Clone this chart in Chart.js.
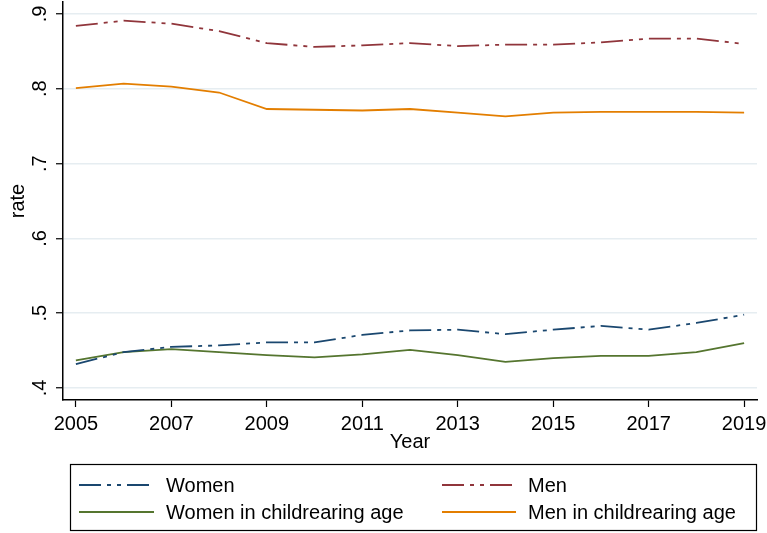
<!DOCTYPE html>
<html>
<head>
<meta charset="utf-8">
<script src="https://cdn.jsdelivr.net/npm/chart.js@4/dist/chart.umd.min.js"></script>
<style>
  html, body { margin: 0; padding: 0; background: #fff; }
  #wrap { width: 767px; height: 533px; position: relative; }
</style>
</head>
<body>
<div id="wrap"><canvas id="rateChart" width="767" height="533"></canvas></div>
<script>
/* ── Data ─────────────────────────────────────────────────────────── */
const years = [2005, 2006, 2007, 2008, 2009, 2010, 2011, 2012,
               2013, 2014, 2015, 2016, 2017, 2018, 2019];

const women      = [0.432, 0.448, 0.455, 0.457, 0.461, 0.461, 0.471, 0.477,
                    0.478, 0.472, 0.478, 0.483, 0.478, 0.487, 0.498];
const men        = [0.884, 0.891, 0.887, 0.877, 0.861, 0.856, 0.858, 0.861,
                    0.857, 0.859, 0.859, 0.862, 0.867, 0.867, 0.860];
const womenChild = [0.437, 0.448, 0.452, 0.448, 0.444, 0.441, 0.445, 0.451,
                    0.444, 0.435, 0.440, 0.443, 0.443, 0.448, 0.460];
const menChild   = [0.801, 0.807, 0.803, 0.795, 0.773, 0.772, 0.771, 0.773,
                    0.768, 0.763, 0.768, 0.769, 0.769, 0.769, 0.768];

const xTicks = [2005, 2007, 2009, 2011, 2013, 2015, 2017, 2019];
const yTicks = [0.4, 0.5, 0.6, 0.7, 0.8, 0.9];
const yTickLabels = ['.4', '.5', '.6', '.7', '.8', '.9'];

const FONT = 'Arial, "Liberation Sans", sans-serif';
const dashDot = [22, 6, 4, 6, 4, 6];

function pts(vals) {
  return years.map(function(y, i) { return { x: y, y: vals[i] }; });
}

// ── Plugins: rotated y tick labels + boxed legend ────────────────────
const yLabelPlugin = {
  id: 'yLabels',
  afterDraw: function(chart) {
    const ctx = chart.ctx, sc = chart.scales.y;
    ctx.save();
    ctx.fillStyle = '#000';
    ctx.font = '20px ' + FONT;
    ctx.textAlign = 'center';
    ctx.textBaseline = 'middle';
    yTicks.forEach(function(v, i) {
      ctx.save();
      ctx.translate(40, sc.getPixelForValue(v));
      ctx.rotate(-Math.PI / 2);
      ctx.fillText(yTickLabels[i], 0, 0);
      ctx.restore();
    });
    ctx.restore();
  }
};

const legendPlugin = {
  id: 'boxLegend',
  afterDraw: function(chart) {
    const ctx = chart.ctx;
    const cols = [{ x0: 79, x1: 154, tx: 166 }, { x0: 442, x1: 516, tx: 528 }];
    const rows = [485, 512];
    ctx.save();
    ctx.strokeStyle = '#000';
    ctx.lineWidth = 1.2;
    ctx.strokeRect(70.5, 464.5, 686, 66);
    ctx.font = '20px ' + FONT;
    ctx.textBaseline = 'middle';
    ctx.textAlign = 'left';
    chart.data.datasets.forEach(function(ds, k) {
      const c = cols[k % 2], y = rows[Math.floor(k / 2)];
      ctx.save();
      ctx.strokeStyle = ds.borderColor;
      ctx.lineWidth = ds.borderWidth;
      ctx.setLineDash(ds.borderDash || []);
      ctx.beginPath();
      ctx.moveTo(c.x0, y);
      ctx.lineTo(c.x1, y);
      ctx.stroke();
      ctx.restore();
      ctx.fillStyle = '#000';
      ctx.fillText(ds.label, c.tx, y + 1);
    });
    ctx.restore();
  }
};

// ── Chart ────────────────────────────────────────────────────────────
const ctx = document.getElementById('rateChart').getContext('2d');
new Chart(ctx, {
  type: 'line',
  data: {
    datasets: [
      { label: 'Women', data: pts(women), borderColor: '#1a476f',
        borderWidth: 1.8, borderDash: dashDot },
      { label: 'Men', data: pts(men), borderColor: '#90353b',
        borderWidth: 1.8, borderDash: dashDot },
      { label: 'Women in childrearing age', data: pts(womenChild), borderColor: '#55752f',
        borderWidth: 1.8 },
      { label: 'Men in childrearing age', data: pts(menChild), borderColor: '#e37e00',
        borderWidth: 1.8 }
    ]
  },
  options: {
    responsive: false,
    animation: false,
    devicePixelRatio: 1,
    elements: { point: { radius: 0 }, line: { tension: 0, fill: false } },
    layout: { padding: { left: 0, right: 10, top: 2, bottom: 78 } },
    plugins: { legend: { display: false }, tooltip: { enabled: false } },
    scales: {
      x: {
        type: 'linear',
        min: 2004.73,
        max: 2019.27,
        afterBuildTicks: function(sc) { sc.ticks = xTicks.map(function(v) { return { value: v }; }); },
        afterFit: function(sc) {
          sc.height = 55;
          sc.paddingLeft = 0;
          sc.paddingRight = 0;
        },
        ticks: {
          color: '#000',
          font: { family: FONT, size: 20 },
          padding: 5,
          maxRotation: 0,
          callback: function(v) { return String(v); }
        },
        grid: { drawOnChartArea: false, tickLength: 7, tickColor: '#000', tickWidth: 1.2 },
        border: { color: '#000', width: 1.5 },
        title: {
          display: true, text: 'Year', color: '#000',
          font: { family: FONT, size: 20 },
          padding: { top: 0, bottom: 1 }
        }
      },
      y: {
        type: 'linear',
        min: 0.384,
        max: 0.916,
        afterBuildTicks: function(sc) { sc.ticks = yTicks.map(function(v) { return { value: v }; }); },
        afterFit: function(sc) {
          sc.width = 63;
          sc.paddingTop = 0;
          sc.paddingBottom = 0;
        },
        ticks: { display: false },
        grid: { color: '#e6edf1', lineWidth: 1.5, tickLength: 7, tickColor: '#000', tickWidth: 1.2 },
        border: { color: '#000', width: 1.5 },
        title: {
          display: true, text: 'rate', color: '#000',
          font: { family: FONT, size: 20 },
          padding: { top: 6, bottom: 0 }
        }
      }
    }
  },
  plugins: [yLabelPlugin, legendPlugin]
});
</script>
</body>
</html>
